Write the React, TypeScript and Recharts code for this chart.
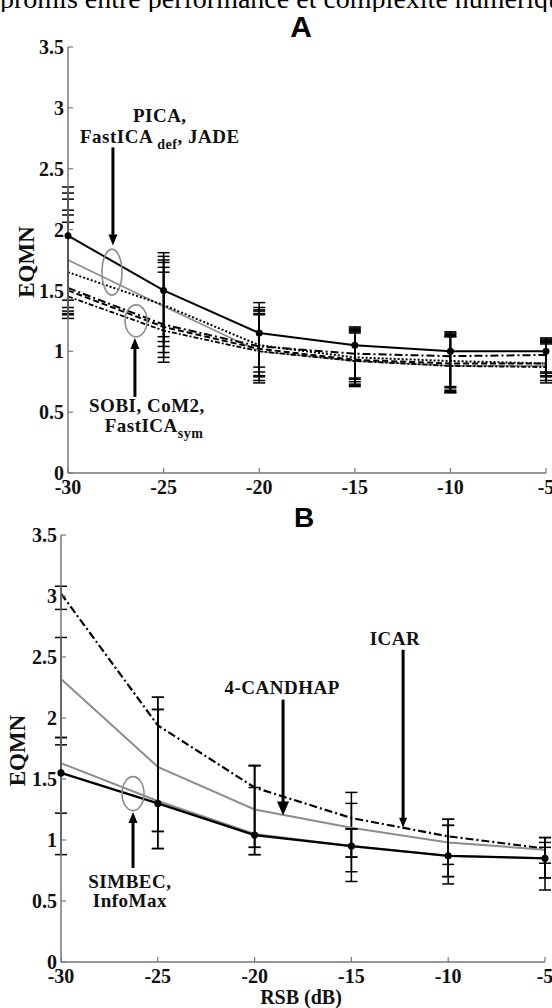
import React from "react";
import { LineChart, Line, XAxis, YAxis, ErrorBar, ReferenceDot } from "recharts";

const snr = [-30, -25, -20, -15, -10, -5];
const yTicks = [0, 0.5, 1, 1.5, 2, 2.5, 3, 3.5];

// panel A: values and [low, high] error bounds
const aPica = [1.95, 1.5, 1.15, 1.05, 1.0, 1.0];
const aFastIcaDef = [1.75, 1.37, 1.0, 0.92, 0.88, 0.88];
const aJade = [1.65, 1.38, 1.05, 0.95, 0.92, 0.9];
const aSobi = [1.52, 1.22, 1.04, 0.98, 0.96, 0.97];
const aCom2 = [1.5, 1.2, 1.02, 0.93, 0.9, 0.9];
const aFastIcaSym = [1.45, 1.17, 1.0, 0.92, 0.88, 0.87];

const aPicaErr = [[1.42, 2.35], [1.12, 1.81], [0.87, 1.4], [0.78, 1.2], [0.71, 1.16], [0.83, 1.11]];
const aFastIcaDefErr = [[1.36, 2.3], [1.08, 1.78], [0.83, 1.36], [0.75, 1.18], [0.68, 1.13], [0.8, 1.08]];
const aJadeErr = [[1.31, 2.25], [1.04, 1.75], [0.79, 1.34], [0.71, 1.16], [0.66, 1.12], [0.74, 1.06]];
const aSobiErr = [[1.27, 2.16], [0.99, 1.69], [0.74, 1.31], [0.77, 1.19], [0.7, 1.15], [0.82, 1.1]];
const aCom2Err = [[1.3, 2.12], [0.95, 1.65], [0.8, 1.33], [0.73, 1.17], [0.67, 1.14], [0.79, 1.09]];
const aFastIcaSymErr = [[1.33, 2.06], [0.91, 1.73], [0.76, 1.3], [0.72, 1.15], [0.66, 1.12], [0.76, 1.07]];

// panel B
const bIcar = [3.02, 1.94, 1.43, 1.18, 1.03, 0.93];
const bCandhap = [2.32, 1.6, 1.25, 1.1, 0.98, 0.92];
const bSimbec = [1.63, 1.32, 1.05, 0.95, 0.87, 0.85];
const bInfoMax = [1.55, 1.3, 1.04, 0.95, 0.87, 0.85];

const bIcarErr = [[2.89, 3.08], [1.07, 2.17], [0.94, 1.61], [0.74, 1.39], [0.7, 1.17], [0.81, 1.02]];
const bCandhapErr = [[1.78, 2.66], [0.93, 2.07], [0.88, 1.61], [0.66, 1.3], [0.64, 1.12], [0.69, 0.98]];
const bSimbecErr = [[1.22, 1.84], [0.93, 2.07], [0.94, 1.61], [0.86, 1.09], [0.8, 1.17], [0.59, 0.94]];
const bInfoMaxErr = [[0.88, 1.84], [1.07, 2.17], [0.88, 1.43], [0.86, 1.09], [0.7, 1.12], [0.69, 1.02]];

const serif = "'Liberation Serif', 'Times New Roman', serif";
const frame = "#777";
const ink = "#111";

type Series = { key: string; values: number[]; bounds: number[][]; stroke: string; dash?: string; width: number; dot?: boolean };

const seriesA: Series[] = [
  { key: "pica", values: aPica, bounds: aPicaErr, stroke: "#000", width: 2, dot: true },
  { key: "fastIcaDef", values: aFastIcaDef, bounds: aFastIcaDefErr, stroke: "#8c8c8c", width: 1.6 },
  { key: "jade", values: aJade, bounds: aJadeErr, stroke: "#000", dash: "2 2", width: 2 },
  { key: "sobi", values: aSobi, bounds: aSobiErr, stroke: "#000", dash: "8 3 2 3", width: 2 },
  { key: "com2", values: aCom2, bounds: aCom2Err, stroke: "#000", dash: "6 3", width: 2 },
  { key: "fastIcaSym", values: aFastIcaSym, bounds: aFastIcaSymErr, stroke: "#000", dash: "5 2 2 2", width: 1.8 },
];

const seriesB: Series[] = [
  { key: "icar", values: bIcar, bounds: bIcarErr, stroke: "#000", dash: "8 3 2 3", width: 2.2 },
  { key: "candhap", values: bCandhap, bounds: bCandhapErr, stroke: "#8c8c8c", width: 2 },
  { key: "simbec", values: bSimbec, bounds: bSimbecErr, stroke: "#8c8c8c", width: 2 },
  { key: "infomax", values: bInfoMax, bounds: bInfoMaxErr, stroke: "#000", width: 2.2, dot: true },
];

const buildTable = (list: Series[]) =>
  snr.map((x, i) => {
    const row: Record<string, any> = { x };
    list.forEach((s) => {
      row[s.key] = s.values[i];
      row[s.key + "Err"] = [s.values[i] - s.bounds[i][0], s.bounds[i][1] - s.values[i]];
    });
    return row;
  });

const tableA = buildTable(seriesA);
const tableB = buildTable(seriesB);

const tickStyle = { fontFamily: serif, fontWeight: 700, fontSize: 20, fill: ink };
const fmt = (v: number) => String(v);

// vertical arrow, tip anchored at a data point
const arrow = (len: number, up: boolean, hw: number, hh: number) => (p: any) => {
  const { cx, cy } = p;
  const s = up ? 1 : -1;
  return (
    <g>
      <line x1={cx} y1={cy + s * len} x2={cx} y2={cy + s * hh * 0.6} stroke="#000" strokeWidth={3} />
      <polygon points={`${cx},${cy} ${cx - hw / 2},${cy + s * hh} ${cx + hw / 2},${cy + s * hh}`} fill="#000" />
    </g>
  );
};

const ellipse = (rx: number, ry: number) => (p: any) => (
  <ellipse cx={p.cx} cy={p.cy} rx={rx} ry={ry} fill="none" stroke="#8c8c8c" strokeWidth={1.6} />
);

const label = (lines: React.ReactNode[], size = 19) => (p: any) => (
  <text x={p.cx} y={p.cy} textAnchor="middle" fontFamily={serif} fontWeight={700} fontSize={size} letterSpacing={0.5} fill={ink}>
    {lines}
  </text>
);

const renderPanel = (list: Series[], yLabelDx: number, yWidth: number, xHeight: number) => [
  <XAxis
    key="xb"
    dataKey="x"
    type="number"
    domain={[-30, -5]}
    ticks={snr}
    tickFormatter={fmt}
    tick={tickStyle}
    tickSize={-5}
    tickMargin={12}
    height={xHeight}
    axisLine={{ stroke: frame, strokeWidth: 1.5 }}
    tickLine={{ stroke: frame, strokeWidth: 1.2 }}
    interval={0}
  />,
  <XAxis
    key="xt"
    xAxisId="top"
    orientation="top"
    dataKey="x"
    type="number"
    domain={[-30, -5]}
    ticks={snr}
    height={0}
    tick={false}
    tickSize={-5}
    axisLine={{ stroke: frame, strokeWidth: 1.5 }}
    tickLine={{ stroke: frame, strokeWidth: 1.2 }}
  />,
  <YAxis
    key="yl"
    type="number"
    domain={[0, 3.5]}
    ticks={yTicks}
    tickFormatter={fmt}
    tick={tickStyle}
    tickSize={-5}
    tickMargin={9}
    width={yWidth}
    axisLine={{ stroke: frame, strokeWidth: 1.5 }}
    tickLine={{ stroke: frame, strokeWidth: 1.2 }}
    interval={0}
    label={{
      content: (lp: any) => {
        const vb = lp.viewBox;
        const x = vb.x + yLabelDx;
        const y = vb.y + vb.height / 2 + 2;
        return (
          <text x={x} y={y} transform={`rotate(-90 ${x} ${y})`} textAnchor="middle" fontFamily={serif} fontWeight={700} fontSize={23} fill={ink}>
            EQMN
          </text>
        );
      },
    }}
  />,
  <YAxis
    key="yr"
    yAxisId="right"
    orientation="right"
    type="number"
    domain={[0, 3.5]}
    ticks={yTicks}
    width={0}
    tick={false}
    tickSize={-5}
    axisLine={{ stroke: frame, strokeWidth: 1.5 }}
    tickLine={{ stroke: frame, strokeWidth: 1.2 }}
  />,
  ...list.map((s) => (
    <Line
      key={s.key}
      dataKey={s.key}
      type="linear"
      stroke={s.stroke}
      strokeWidth={s.width}
      strokeDasharray={s.dash}
      dot={s.dot ? { r: 2.5, fill: "#000", stroke: "#000" } : false}
      isAnimationActive={false}
    >
      <ErrorBar dataKey={s.key + "Err"} direction="y" width={6} stroke="#000" strokeWidth={1.5} />
    </Line>
  )),
];

export default function App() {
  return (
    <div style={{ position: "absolute", left: 0, top: 0, width: 552, height: 1008, background: "#fff", overflow: "hidden" }}>
      <svg width={552} height={12} style={{ position: "absolute", left: 0, top: 0 }}>
        <text x={0} y={8} fontFamily={serif} fontSize={28} fill="#000">
          promis entre performance et complexité numérique
        </text>
      </svg>
      <div style={{ position: "absolute", left: 0, top: 12, width: 552, textAlign: "center", fontFamily: "'Liberation Sans', Arial, sans-serif", fontWeight: 700, fontSize: 30, lineHeight: "30px", paddingLeft: 50, boxSizing: "border-box" }}>
        A
      </div>
      <div style={{ position: "absolute", left: 0, top: 0 }}>
        <LineChart width={552} height={500} data={tableA} margin={{ top: 47, right: 6, bottom: 0, left: 8 }}>
          {renderPanel(seriesA, 26, 60, 27)}
          <ReferenceDot x={-25.2} y={2.88} r={1} shape={label(["PICA,"])} />
          <ReferenceDot
            x={-25.2}
            y={2.71}
            r={1}
            shape={label([
              <tspan key="a">FastICA </tspan>,
              <tspan key="b" dy={6} fontSize={14}>def</tspan>,
              <tspan key="c" dy={-6}>, JADE</tspan>,
            ])}
          />
          <ReferenceDot x={-27.65} y={1.87} r={1} shape={arrow(98, false, 9, 11)} />
          <ReferenceDot x={-27.7} y={1.65} r={1} shape={ellipse(10, 23)} />
          <ReferenceDot x={-26.44} y={1.25} r={1} shape={ellipse(11, 16)} />
          <ReferenceDot x={-26.5} y={1.11} r={1} shape={arrow(59, true, 9, 11)} />
          <ReferenceDot x={-25.87} y={0.5} r={1} shape={label(["SOBI, CoM2,"])} />
          <ReferenceDot
            x={-25.5}
            y={0.34}
            r={1}
            shape={label([
              <tspan key="a">FastICA</tspan>,
              <tspan key="b" dy={6} fontSize={14}>sym</tspan>,
            ])}
          />
        </LineChart>
      </div>
      <div style={{ position: "absolute", left: 0, top: 503, width: 552, textAlign: "center", fontFamily: "'Liberation Sans', Arial, sans-serif", fontWeight: 700, fontSize: 28, lineHeight: "30px", paddingLeft: 56, boxSizing: "border-box" }}>
        B
      </div>
      <div style={{ position: "absolute", left: 0, top: 500 }}>
        <LineChart width={552} height={508} data={tableB} margin={{ top: 35, right: 7, bottom: 0, left: 5 }}>
          {renderPanel(seriesB, 20, 56, 46)}
          <ReferenceDot x={-12.75} y={2.6} r={1} shape={label(["ICAR"])} />
          <ReferenceDot x={-12.33} y={1.1} r={1} shape={arrow(178, false, 8, 10)} />
          <ReferenceDot x={-18.58} y={2.2} r={1} shape={label(["4-CANDHAP"])} />
          <ReferenceDot x={-18.53} y={1.2} r={1} shape={arrow(116, false, 12, 14)} />
          <ReferenceDot x={-26.28} y={1.38} r={1} shape={ellipse(11, 17)} />
          <ReferenceDot x={-26.28} y={1.23} r={1} shape={arrow(56, true, 9, 11)} />
          <ReferenceDot x={-26.44} y={0.61} r={1} shape={label(["SIMBEC,"])} />
          <ReferenceDot x={-26.44} y={0.45} r={1} shape={label(["InfoMax"])} />
        </LineChart>
      </div>
      <div style={{ position: "absolute", left: 0, top: 987, width: 552, paddingLeft: 50, boxSizing: "border-box", textAlign: "center", fontFamily: serif, fontWeight: 700, fontSize: 20, lineHeight: "20px", color: ink }}>
        RSB (dB)
      </div>
    </div>
  );
}
